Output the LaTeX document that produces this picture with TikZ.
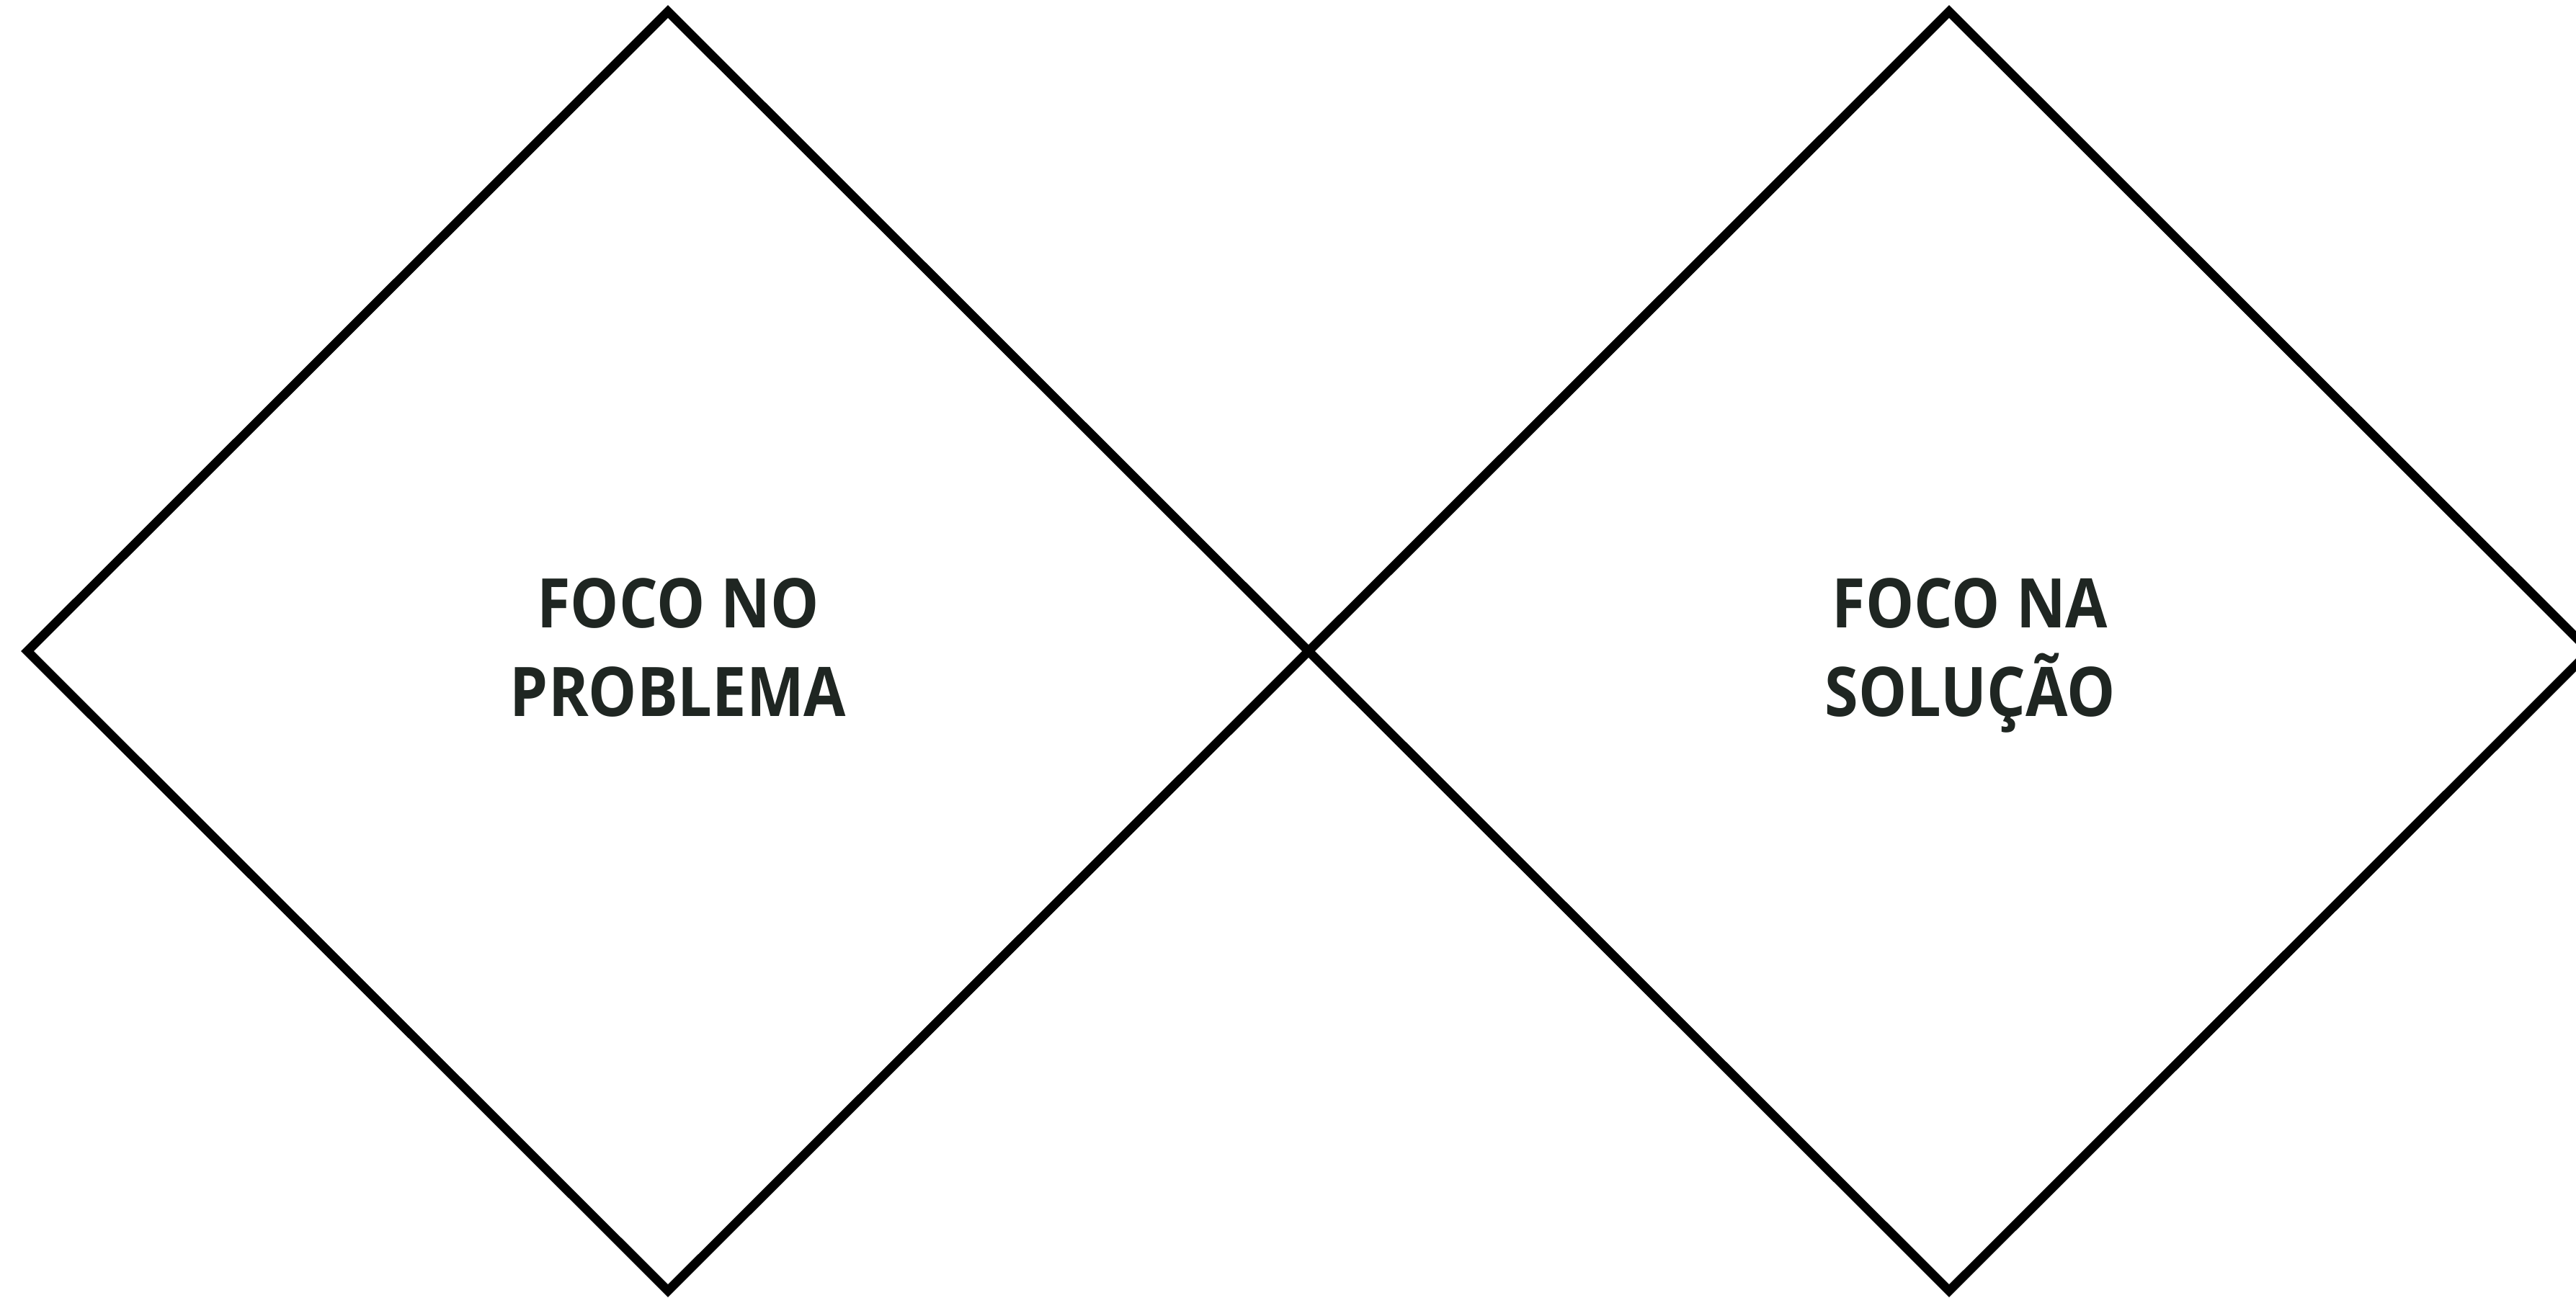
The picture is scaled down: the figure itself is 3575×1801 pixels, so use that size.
\documentclass[tikz,border=0pt]{standalone}
\usepackage{fontspec}
\setmainfont{Open Sans}
\newfontfamily\labelfont{Open Sans}[FakeStretch=0.89]
\definecolor{labelcol}{RGB}{31,38,34}
\begin{document}
\begin{tikzpicture}[x=1pt,y=-1pt,
  shapeline/.style={draw=black,line width=12.5pt,line join=miter,miter limit=10},
  lbl/.style={font=\labelfont\bfseries\fontsize{95pt}{123pt}\selectfont,text=labelcol,align=center,inner sep=0pt,text depth=0pt,anchor=south}]
\useasboundingbox (0,0) rectangle (3575,1801);
\clip (0,0) rectangle (3575,1801);
% left diamond
\coordinate (aT) at (927,16);
\coordinate (aR) at (1816,904);
\coordinate (aB) at (927,1792);
\coordinate (aL) at (38,904);
% right diamond
\coordinate (bT) at (2705,16);
\coordinate (bR) at (3594,904);
\coordinate (bB) at (2705,1792);
\coordinate (bL) at (1816,904);
\draw[shapeline] (aT) -- (aR) -- (aB) -- (aL) -- cycle;
\draw[shapeline] (bT) -- (bR) -- (bB) -- (bL) -- cycle;
\node[lbl] (t1) at (941,995) {FOCO NO\\PROBLEMA};
\node[lbl] (t2) at (2734,995) {FOCO NA\\SOLUÇÃO};
\end{tikzpicture}
\end{document}
